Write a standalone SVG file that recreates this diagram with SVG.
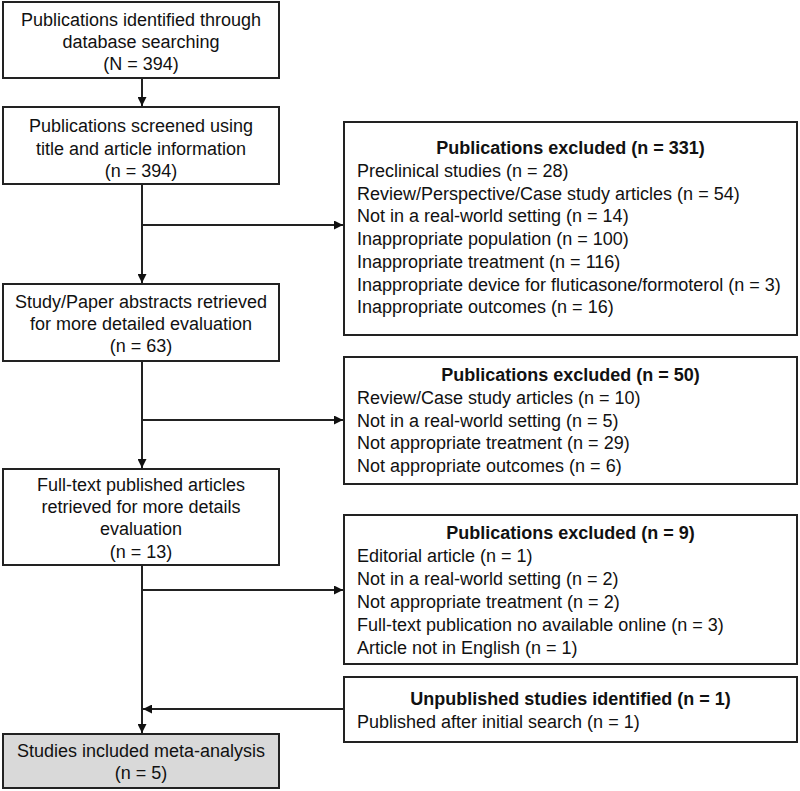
<svg xmlns="http://www.w3.org/2000/svg" width="800" height="791" viewBox="0 0 800 791">
<style>
.box{fill:#fff;stroke:#222;stroke-width:2}
.inc{fill:#d9d9d9;stroke:#222;stroke-width:2}
text{font-family:"Liberation Sans",Arial,sans-serif;font-size:18px;fill:#111}
.c{text-anchor:middle}
.b{font-weight:bold}
.ln{fill:none;stroke:#222;stroke-width:2}
</style>
<defs>
<marker id="ah" viewBox="0 0 10 10" refX="10" refY="5" markerWidth="9" markerHeight="9" markerUnits="userSpaceOnUse" orient="auto">
<path d="M0,0 L10,5 L0,10 z" fill="#111"/>
</marker>
</defs>
<rect width="800" height="791" fill="#fff"/>
<g id="connectors">
<line class="ln" x1="142" y1="78" x2="142" y2="106" marker-end="url(#ah)"/>
<line class="ln" x1="142" y1="184" x2="142" y2="283" marker-end="url(#ah)"/>
<line class="ln" x1="142" y1="225" x2="343" y2="225" marker-end="url(#ah)"/>
<line class="ln" x1="142" y1="361" x2="142" y2="468" marker-end="url(#ah)"/>
<line class="ln" x1="142" y1="420" x2="343" y2="420" marker-end="url(#ah)"/>
<line class="ln" x1="142" y1="565" x2="142" y2="733" marker-end="url(#ah)"/>
<line class="ln" x1="142" y1="590" x2="343" y2="590" marker-end="url(#ah)"/>
<line class="ln" x1="344" y1="709" x2="143" y2="709" marker-end="url(#ah)"/>
</g>
<g id="n1">
<rect class="box" x="3" y="2" width="276" height="76"/>
<text class="c" x="141" y="26">Publications identified through</text>
<text class="c" x="141" y="48">database searching</text>
<text class="c" x="141" y="70">(N = 394)</text>
</g>
<g id="n2">
<rect class="box" x="3" y="107" width="276" height="77"/>
<text class="c" x="141" y="132">Publications screened using</text>
<text class="c" x="141" y="154.5">title and article information</text>
<text class="c" x="141" y="177">(n = 394)</text>
</g>
<g id="n3">
<rect class="box" x="3" y="284" width="276" height="77"/>
<text class="c" x="141" y="308">Study/Paper abstracts retrieved</text>
<text class="c" x="141" y="330">for more detailed evaluation</text>
<text class="c" x="141" y="352">(n = 63)</text>
</g>
<g id="n4">
<rect class="box" x="3" y="469" width="276" height="96"/>
<text class="c" x="141" y="491">Full-text published articles</text>
<text class="c" x="141" y="513">retrieved for more details</text>
<text class="c" x="141" y="535">evaluation</text>
<text class="c" x="141" y="558">(n = 13)</text>
</g>
<g id="n5">
<rect class="inc" x="3" y="734" width="276" height="54"/>
<text class="c" x="141" y="757">Studies included meta-analysis</text>
<text class="c" x="141" y="779">(n = 5)</text>
</g>
<g id="x1">
<rect class="box" x="344" y="122" width="453" height="213"/>
<text class="c b" x="570.5" y="154">Publications excluded (n = 331)</text>
<text x="357" y="177">Preclinical studies (n = 28)</text>
<text x="357" y="199.5">Review/Perspective/Case study articles (n = 54)</text>
<text x="357" y="222">Not in a real-world setting (n = 14)</text>
<text x="357" y="245">Inappropriate population (n = 100)</text>
<text x="357" y="268">Inappropriate treatment (n = 116)</text>
<text x="357" y="290.5">Inappropriate device for fluticasone/formoterol (n = 3)</text>
<text x="357" y="313">Inappropriate outcomes (n = 16)</text>
</g>
<g id="x2">
<rect class="box" x="344" y="357" width="453" height="127"/>
<text class="c b" x="570.5" y="381">Publications excluded (n = 50)</text>
<text x="357" y="404">Review/Case study articles (n = 10)</text>
<text x="357" y="426.5">Not in a real-world setting (n = 5)</text>
<text x="357" y="449">Not appropriate treatment (n = 29)</text>
<text x="357" y="472">Not appropriate outcomes (n = 6)</text>
</g>
<g id="x3">
<rect class="box" x="344" y="515" width="453" height="149"/>
<text class="c b" x="570.5" y="539">Publications excluded (n = 9)</text>
<text x="357" y="562">Editorial article (n = 1)</text>
<text x="357" y="585">Not in a real-world setting (n = 2)</text>
<text x="357" y="608">Not appropriate treatment (n = 2)</text>
<text x="357" y="631">Full-text publication no available online (n = 3)</text>
<text x="357" y="654">Article not in English (n = 1)</text>
</g>
<g id="x4">
<rect class="box" x="344" y="677" width="453" height="65"/>
<text class="c b" x="570.5" y="705">Unpublished studies identified (n = 1)</text>
<text x="357" y="728">Published after initial search (n = 1)</text>
</g>
</svg>
